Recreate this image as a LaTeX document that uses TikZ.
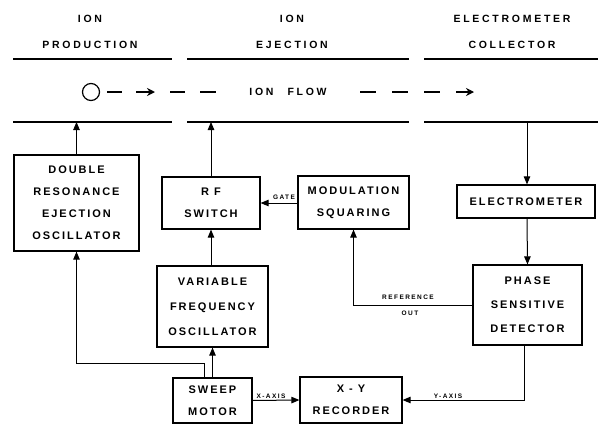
\documentclass[tikz,border=0pt]{standalone}
\usepackage{fontspec}
\usetikzlibrary{arrows.meta}
\newfontfamily\blkfont[LetterSpace=18]{Liberation Sans}
\newfontfamily\hdrfont[LetterSpace=26]{Liberation Sans}
\newfontfamily\smlfont[LetterSpace=22]{Liberation Sans}
\begin{document}
\begin{tikzpicture}[x=1pt,y=-1pt,
  every node/.style={inner sep=0pt},
  blk/.style={draw,line width=1.2pt,align=center,font=\blkfont\bfseries\fontsize{11}{22}\selectfont},
  hdr/.style={font=\hdrfont\bfseries\fontsize{10.5}{12}\selectfont},
  sml/.style={font=\smlfont\bfseries\fontsize{6.5}{8}\selectfont},
  tube/.style={line width=1.8pt},
  conn/.style={line width=1pt},
  arr/.style={conn,-{Triangle[length=8pt,width=6.5pt]}},
  flow/.style={line width=1.3pt},
  flowarr/.style={line width=1.3pt,-{Stealth[length=8pt,width=8pt]}}]
\useasboundingbox (0,0) rectangle (598,426);
% headers
\node[hdr] (h1a) at (90,19) {ION};
\node[hdr] (h1b) at (90,45) {PRODUCTION};
\node[hdr] (h2a) at (292,19) {ION};
\node[hdr] (h2b) at (292,45) {EJECTION};
\node[hdr] (h3a) at (512,19) {ELECTROMETER};
\node[hdr] (h3b) at (512,45) {COLLECTOR};
% tube walls
\draw[tube] (13,59) -- (172,59);
\draw[tube] (187,59) -- (409,59);
\draw[tube] (424,59) -- (598,59);
\draw[tube] (13,122) -- (172,122);
\draw[tube] (187,122) -- (409,122);
\draw[tube] (424,122) -- (598,122);
% ion flow
\node[draw,circle,line width=1.2pt,minimum size=17pt] (src) at (91,92) {};
\draw[flow] (107,92) -- (122,92);
\draw[flowarr] (136,92) -- (155,92);
\draw[flow] (170,92) -- (185,92);
\draw[flow] (200,92) -- (216,92);
\node[hdr] (flowlbl) at (288,92) {ION\hspace{14pt}FLOW};
\draw[flow] (360,92) -- (376,92);
\draw[flow] (392,92) -- (408,92);
\draw[flow] (424,92) -- (440,92);
\draw[flowarr] (456,92) -- (474,92);
% blocks
\node[blk,minimum width=125pt,minimum height=96pt] (dreo) at (76.5,203) {DOUBLE\\RESONANCE\\EJECTION\\OSCILLATOR};
\node[blk,minimum width=98pt,minimum height=52pt] (rf) at (211,203) {R F\\SWITCH};
\node[blk,minimum width=111pt,minimum height=53pt] (mod) at (353.5,202.5) {MODULATION\\SQUARING};
\node[blk,minimum width=138pt,minimum height=33pt] (elec) at (526,201.5) {ELECTROMETER};
\node[blk,minimum width=109pt,minimum height=80pt,font=\blkfont\bfseries\fontsize{11}{24}\selectfont] (phase) at (527.5,305) {PHASE\\SENSITIVE\\DETECTOR};
\node[blk,minimum width=111pt,minimum height=81pt,font=\blkfont\bfseries\fontsize{11}{25}\selectfont] (vfo) at (212.5,306.5) {VARIABLE\\FREQUENCY\\OSCILLATOR};
\node[blk,minimum width=79pt,minimum height=45pt] (sweep) at (212.5,400.5) {SWEEP\\MOTOR};
\node[blk,minimum width=102pt,minimum height=46pt] (xy) at (351,400) {X - Y\\RECORDER};
% connector ends at the tube wall
\coordinate (t1) at (76.5,122);
\coordinate (t2) at (211,122);
\coordinate (t3) at (527,122);
% connectors
\draw[arr] (dreo.north) -- (t1);
\draw[arr] (rf.north) -- (t2);
\draw[arr] (t3) -- (t3 |- elec.north);
\draw[arr] (t3 |- elec.south) -- (phase.north);
\draw[arr] (mod.west |- rf.east) -- (rf.east);
\draw[arr] (vfo.north -| rf.south) -- (rf.south);
\draw[arr] (phase.west) -| (mod.south);
\draw[arr] (sweep.north) -- (vfo.south);
\draw[arr] ([xshift=-8.5pt]sweep.north) -- ++(0,-14) -| (dreo.south);
\draw[arr] (sweep.east) -- (xy.west);
\draw[arr] ([xshift=-3pt]phase.south) |- (xy.east);
% labels
\node[sml] (lgate) at (284,197) {GATE};
\node[sml] (lref) at (408,297) {REFERENCE};
\node[sml] (lout) at (410,313) {OUT};
\node[sml] (lx) at (271,396) {X-AXIS};
\node[sml] (ly) at (448,396) {Y-AXIS};
\end{tikzpicture}
\end{document}
